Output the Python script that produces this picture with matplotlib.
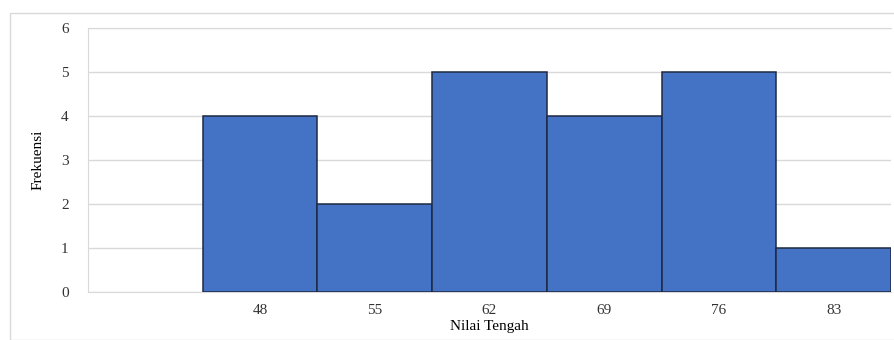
import matplotlib.pyplot as plt
from matplotlib.patches import Rectangle

# frequency table (class midpoints)
kategori = ["", "48", "55", "62", "69", "76", "83"]
frekuensi = [0, 4, 2, 5, 4, 5, 1]
y_ticks = [0, 1, 2, 3, 4, 5, 6]

plt.rcParams['font.family'] = ['Liberation Serif', 'DejaVu Serif']

fig = plt.figure(figsize=(8.95, 3.40), dpi=100)
ax = fig.add_axes([88 / 895, 1 - 292 / 340, 803 / 895, 264 / 340])

# outer chart border
fig.patches.append(Rectangle((10 / 895, 0), 0.99, 1 - 13 / 340,
                             transform=fig.transFigure, fill=False,
                             edgecolor='#d9d9d9', linewidth=1.0))

pos = list(range(len(kategori)))
# empty class gets no outline
lw = [0 if f == 0 else 1.1 for f in frekuensi]
ax.bar(pos, frekuensi, width=1.0, color='#4472c4', edgecolor='#1f2a44',
       linewidth=lw, zorder=3)

ax.set_xlim(-0.5, len(kategori) - 0.5)
ax.set_ylim(0, 6)
ax.set_yticks(y_ticks)
ax.set_xticks(pos)
ax.set_xticklabels(kategori)
ax.tick_params(axis='both', length=0, labelsize=11, colors='#333333')
ax.tick_params(axis='y', pad=14)
ax.tick_params(axis='x', pad=9)

ax.grid(axis='y', color='#d9d9d9', linewidth=1.0, zorder=0)
for side in ['left', 'top', 'bottom']:
    ax.spines[side].set_color('#d9d9d9')
ax.spines['right'].set_visible(False)

ax.set_xlabel('Nilai Tengah', fontsize=11, labelpad=2)
ax.set_ylabel('Frekuensi', fontsize=11, labelpad=12)

fig.savefig('out.png', dpi=100)
